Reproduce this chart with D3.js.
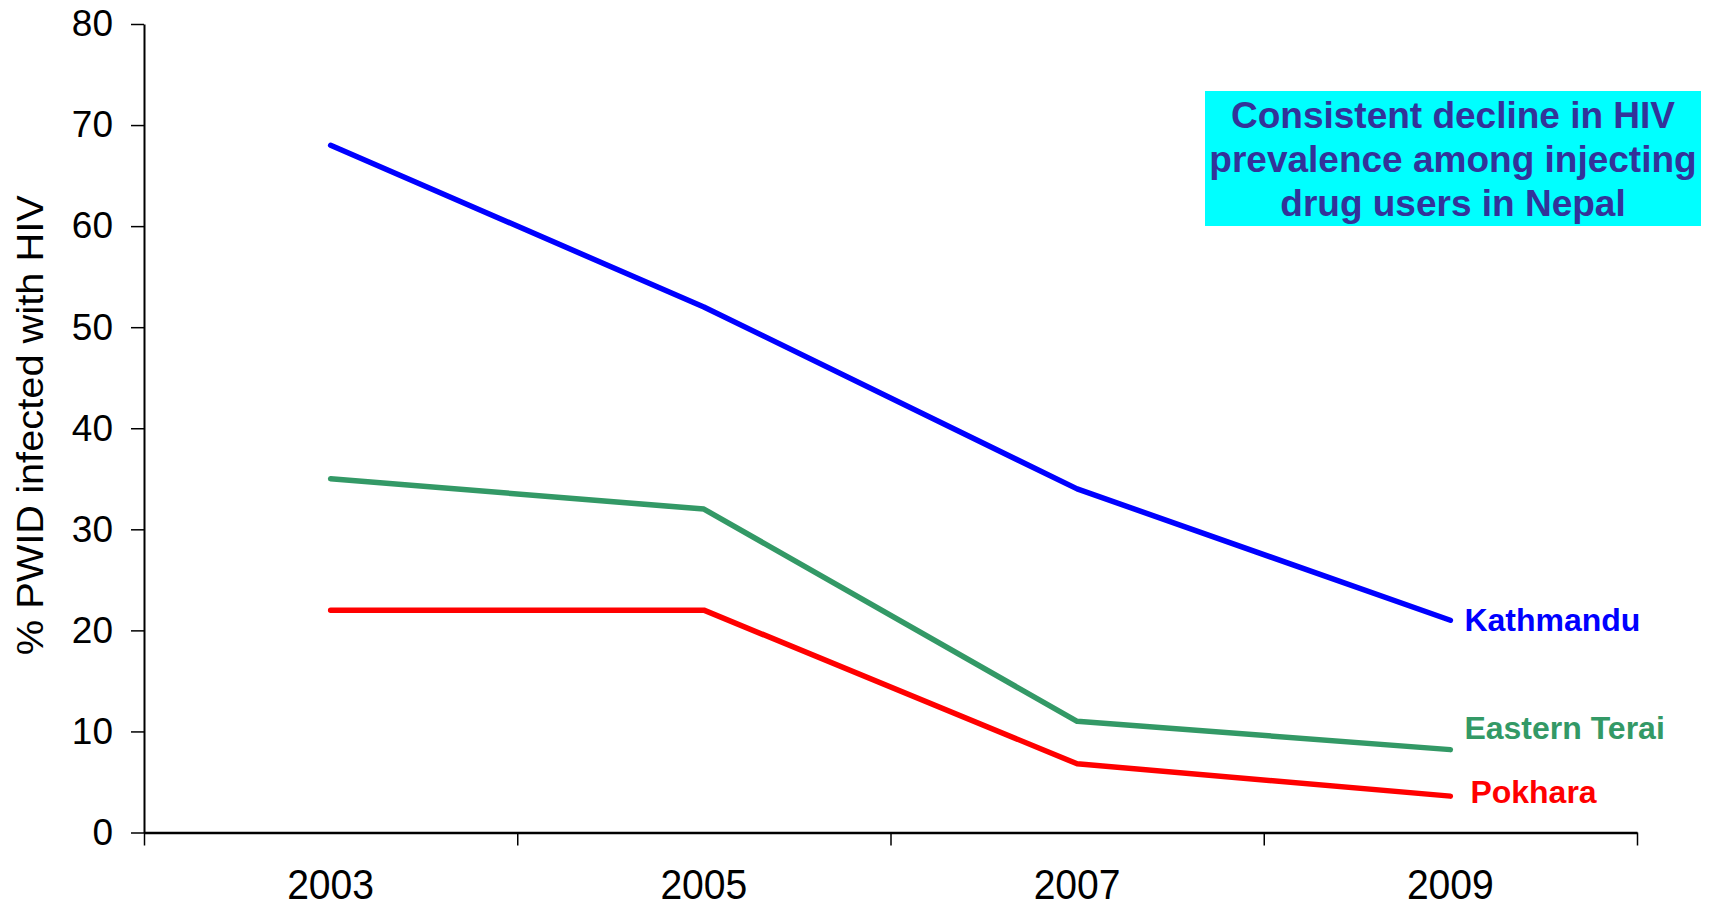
<!DOCTYPE html>
<html>
<head>
<meta charset="utf-8">
<script src="https://cdn.jsdelivr.net/npm/d3@7"></script>
<style>
	body { margin: 0; background: #fff; }
	svg { display: block; font-family: "Liberation Sans", Arial, sans-serif; }
</style>
</head>
<body>
<script>
// data
const years = ["2003", "2005", "2007", "2009"];
const kathmandu = [68, 52, 34, 21];
const easternTerai = [35, 32, 11, 8.2];
const pokhara = [22, 22, 6.8, 3.6];
const seriesNames = ["Kathmandu", "Eastern Terai", "Pokhara"];
const seriesColors = ["#0000ff", "#339966", "#ff0000"];
const yTicks = [0, 10, 20, 30, 40, 50, 60, 70, 80];
const note = ["Consistent decline in HIV", "prevalence among injecting", "drug users in Nepal"];

const W = 1713, H = 908,
	pd = { top: 24, left: 144, right: 76, bottom: 75.5 },
	x0 = pd.left, x1 = W - pd.right,
	y0 = H - pd.bottom, y1 = pd.top;

const svg = d3.select("body").append("svg").attr("width", W).attr("height", H);

const x = d3.scaleBand().domain(years).range([x0, x1]).padding(0);
const xEdge = d3.scaleLinear().domain([0, years.length]).range([x0, x1]);
const y = d3.scaleLinear().domain([0, 80]).range([y0, y1]);

/*--- axes ---*/
const yAx = svg.append("g")
	.attr("transform", "translate(" + x0 + ",0)")
	.call(d3.axisLeft(y).tickValues(yTicks).tickSize(13).tickPadding(18).tickSizeOuter(0));
yAx.select(".domain").attr("stroke", "#000").attr("stroke-width", 2);
yAx.selectAll(".tick line").attr("stroke", "#000").attr("stroke-width", 1.5);
yAx.selectAll(".tick text").attr("font-size", 37).attr("fill", "#000")
	.attr("font-family", "Liberation Sans, Arial, sans-serif");

const xTickAx = svg.append("g")
	.attr("transform", "translate(0," + y0 + ")")
	.call(d3.axisBottom(xEdge).ticks(years.length).tickFormat("").tickSize(13).tickSizeOuter(0));
xTickAx.select(".domain").attr("stroke", "#000").attr("stroke-width", 2.5);
xTickAx.selectAll(".tick line").attr("stroke", "#000").attr("stroke-width", 1.5);

const xLab = svg.append("g")
	.attr("transform", "translate(0," + y0 + ")")
	.call(d3.axisBottom(x).tickSize(0).tickPadding(36));
xLab.select(".domain").remove();
xLab.selectAll(".tick text").attr("font-size", 43).attr("fill", "#000")
	.attr("font-family", "Liberation Sans, Arial, sans-serif")
	.attr("textLength", 87).attr("lengthAdjust", "spacingAndGlyphs");

// y title
svg.append("text")
	.attr("transform", "translate(43," + ((y0 + y1) / 2 - 3) + ") rotate(-90)")
	.attr("text-anchor", "middle")
	.attr("font-size", 37)
	.attr("textLength", 460).attr("lengthAdjust", "spacingAndGlyphs")
	.text("% PWID infected with HIV");

/*--- lines ---*/
const line = d3.line().x((d, i) => x(years[i]) + x.bandwidth() / 2).y((d) => y(d));
const allSeries = [kathmandu, easternTerai, pokhara];
svg.selectAll("path.series")
	.data(allSeries)
	.enter()
	.append("path")
	.attr("class", "series")
	.attr("d", line)
	.attr("fill", "none")
	.attr("stroke", (d, i) => seriesColors[i])
	.attr("stroke-width", 5.5)
	.attr("stroke-linecap", "round")
	.attr("stroke-linejoin", "round");

// end labels
const labelPos = [{ dx: 14, dy: 11 }, { dx: 14, dy: -11 }, { dx: 20, dy: 7 }];
svg.selectAll("text.lab")
	.data(allSeries)
	.enter()
	.append("text")
	.attr("class", "lab")
	.attr("x", (d, i) => x(years[3]) + x.bandwidth() / 2 + labelPos[i].dx)
	.attr("y", (d, i) => y(d[3]) + labelPos[i].dy)
	.attr("font-size", 32)
	.attr("font-weight", "bold")
	.attr("fill", (d, i) => seriesColors[i])
	.text((d, i) => seriesNames[i]);

/*--- note box ---*/
svg.append("rect")
	.attr("x", 1205).attr("y", 91).attr("width", 496).attr("height", 135)
	.attr("fill", "#00ffff");
svg.append("text")
	.attr("x", 1453).attr("y", 128)
	.attr("text-anchor", "middle")
	.attr("font-size", 37).attr("font-weight", "bold").attr("fill", "#333399")
	.selectAll("tspan")
	.data(note)
	.enter()
	.append("tspan")
	.attr("x", 1453)
	.attr("dy", (d, i) => i ? 44 : 0)
	.text((d) => d);
</script>
</body>
</html>
